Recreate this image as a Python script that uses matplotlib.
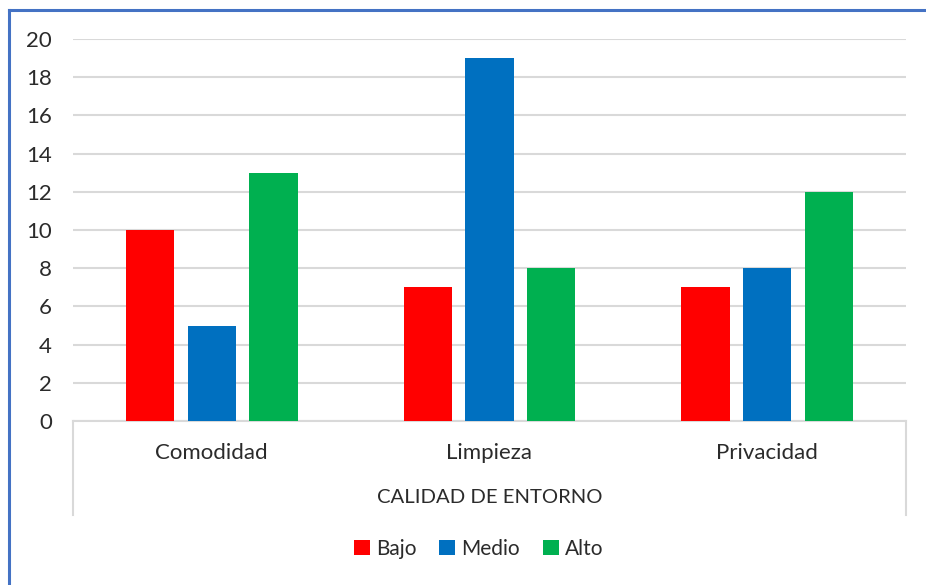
import numpy as np
import matplotlib.pyplot as plt
from matplotlib.lines import Line2D

categorias = ['Comodidad', 'Limpieza', 'Privacidad']
series = ['Bajo', 'Medio', 'Alto']
bajo = [10, 7, 7]
medio = [5, 19, 8]
alto = [13, 8, 12]
colores = ['#FF0000', '#0070C0', '#00B050']

plt.rcParams['font.family'] = ['Lato', 'DejaVu Sans']
texto = '#2b2b2b'
fs = 16

fig = plt.figure(figsize=(9.26, 5.85), dpi=100)
ax = fig.add_axes([0.0788, 0.2803, 0.8996, 0.6530])

x = np.arange(len(categorias))
ancho = 0.174
paso = 0.222
for i, (nombre, valores) in enumerate(zip(series, [bajo, medio, alto])):
    ax.bar(x + (i - 1) * paso, valores, ancho, color=colores[i], label=nombre, zorder=3)

ax.set_xlim(-0.5, 2.5)
ax.set_ylim(0, 20)
ax.set_yticks(range(0, 21, 2))
ax.yaxis.grid(True, color='#d9d9d9', linewidth=1.5, zorder=0)
ax.tick_params(axis='y', length=0, labelsize=fs, colors=texto, pad=15)
ax.set_xticks(x)
ax.set_xticklabels(categorias)
ax.tick_params(axis='x', length=0, labelsize=fs, colors=texto, pad=16)
for lado in ['top', 'right', 'left']:
    ax.spines[lado].set_visible(False)
ax.spines['bottom'].set_color('#d9d9d9')
ax.spines['bottom'].set_linewidth(1.5)

# bordes laterales del eje de categorias
for xe in [0, 1]:
    ax.add_line(Line2D([xe, xe], [0, -0.246], transform=ax.transAxes,
                       color='#d9d9d9', linewidth=1.5, clip_on=False))

ax.text(0.5, -0.2, 'CALIDAD DE ENTORNO', transform=ax.transAxes,
        ha='center', va='center', fontsize=14.6, color=texto)

fig.legend(loc='center', bbox_to_anchor=(0.517, 0.0615), ncol=3, frameon=False,
           fontsize=15, labelcolor=texto, handlelength=0.75, handleheight=0.75,
           handletextpad=0.3, columnspacing=1.1)

# marco azul
fig.add_artist(Line2D([9 / 926, 1], [1 - 10 / 585, 1 - 10 / 585], transform=fig.transFigure,
                      color='#4472C4', linewidth=2.2))
fig.add_artist(Line2D([9 / 926, 9 / 926], [0, 1 - 10 / 585], transform=fig.transFigure,
                      color='#4472C4', linewidth=2.2))

fig.savefig('out.png', dpi=100)
